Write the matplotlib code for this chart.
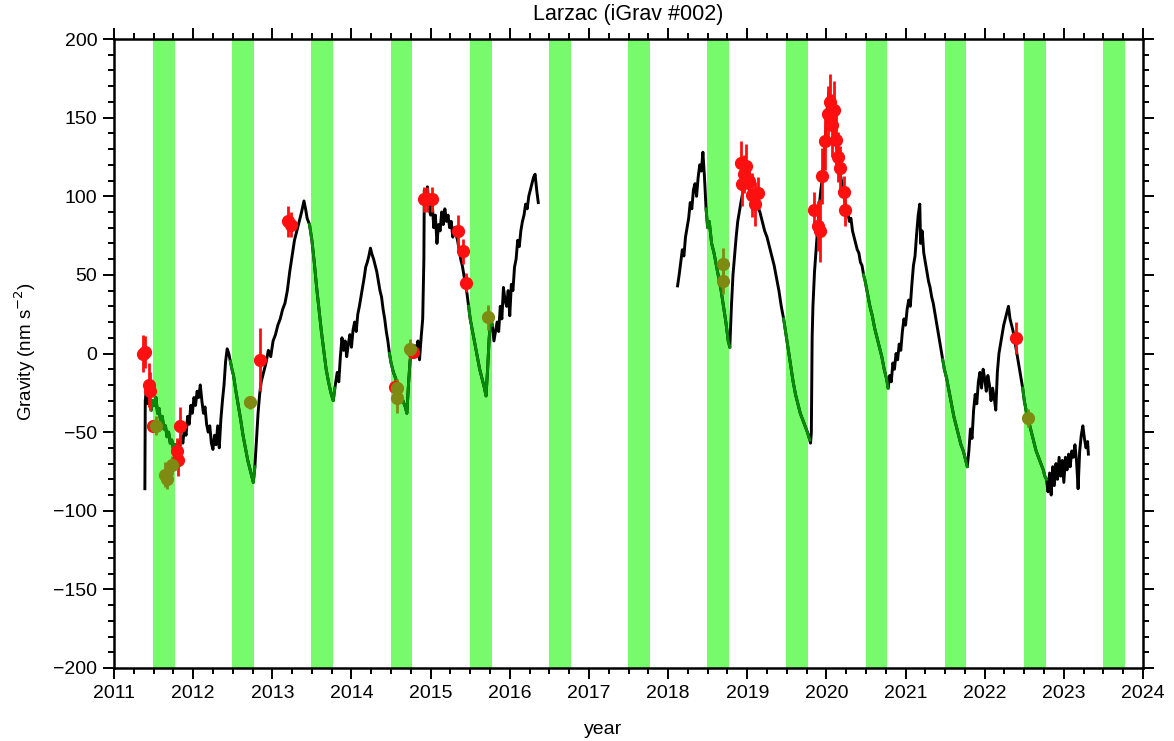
import numpy as np
import matplotlib
matplotlib.use("Agg")
import matplotlib.pyplot as plt
from matplotlib.ticker import MultipleLocator

plt.rcParams['font.family'] = ['Liberation Sans', 'DejaVu Sans']

# gravity residual, first recording period (decimal year, nm/s^2)
t1 = [2011.39, 2011.395, 2011.41, 2011.43, 2011.45, 2011.47, 2011.49, 2011.51, 2011.53, 2011.55,
      2011.57, 2011.59, 2011.61, 2011.63, 2011.65, 2011.67, 2011.69, 2011.71, 2011.73, 2011.75,
      2011.77, 2011.79, 2011.81, 2011.83, 2011.85, 2011.87, 2011.89, 2011.91, 2011.93, 2011.95,
      2011.97, 2011.99, 2012.01, 2012.03, 2012.05, 2012.07, 2012.09, 2012.11, 2012.13, 2012.15,
      2012.17, 2012.19, 2012.21, 2012.23, 2012.25, 2012.27, 2012.29, 2012.31, 2012.33, 2012.35,
      2012.37, 2012.39, 2012.41, 2012.43, 2012.45, 2012.47, 2012.49, 2012.51, 2012.54, 2012.57,
      2012.60, 2012.63, 2012.66, 2012.69, 2012.72, 2012.75, 2012.76, 2012.78, 2012.80, 2012.82,
      2012.84, 2012.86, 2012.89, 2012.92, 2012.95, 2012.98, 2013.01, 2013.04, 2013.07, 2013.10,
      2013.13, 2013.16, 2013.19, 2013.22, 2013.25, 2013.28, 2013.31, 2013.34, 2013.37, 2013.40,
      2013.42, 2013.44, 2013.47, 2013.50, 2013.53, 2013.56, 2013.59, 2013.62, 2013.65, 2013.68,
      2013.71, 2013.74, 2013.77, 2013.79, 2013.82, 2013.84, 2013.86, 2013.88, 2013.90, 2013.92,
      2013.94, 2013.96, 2013.98, 2014.00, 2014.02, 2014.04, 2014.06, 2014.08, 2014.10, 2014.12,
      2014.14, 2014.16, 2014.18, 2014.20, 2014.22, 2014.24, 2014.26, 2014.28, 2014.30, 2014.32,
      2014.34, 2014.36, 2014.38, 2014.40, 2014.42, 2014.44, 2014.46, 2014.48, 2014.50, 2014.53,
      2014.56, 2014.59, 2014.62, 2014.65, 2014.68, 2014.70, 2014.72, 2014.74, 2014.76, 2014.78,
      2014.80, 2014.82, 2014.84, 2014.86, 2014.88, 2014.90, 2014.915, 2014.92, 2014.94, 2014.96,
      2014.98, 2015.00, 2015.02, 2015.04, 2015.06, 2015.08, 2015.10, 2015.12, 2015.14, 2015.16,
      2015.18, 2015.20, 2015.22, 2015.24, 2015.26, 2015.28, 2015.30, 2015.32, 2015.34, 2015.36,
      2015.38, 2015.40, 2015.42, 2015.44, 2015.46, 2015.48, 2015.50, 2015.53, 2015.56, 2015.59,
      2015.62, 2015.65, 2015.68, 2015.70, 2015.72, 2015.74, 2015.76, 2015.78, 2015.80, 2015.82,
      2015.84, 2015.86, 2015.88, 2015.90, 2015.92, 2015.94, 2015.96, 2015.98, 2016.00, 2016.02,
      2016.04, 2016.06, 2016.08, 2016.10, 2016.12, 2016.14, 2016.16, 2016.18, 2016.20, 2016.22,
      2016.24, 2016.26, 2016.28, 2016.30, 2016.32, 2016.34, 2016.36]
g1 = [-86, -30, -22, -32, -28, -36, -30, -33, -28, -38,
      -35, -44, -40, -48, -46, -53, -50, -57, -55, -61,
      -58, -64, -56, -60, -53, -57, -47, -52, -40, -45,
      -33, -38, -28, -33, -24, -28, -20, -30, -38, -34,
      -45, -50, -46, -57, -61, -52, -58, -46, -60, -42,
      -30, -20, -5, 3, 0, -5, -10, -14, -24, -33,
      -42, -52, -60, -68, -74, -80, -82, -72, -55, -38,
      -26, -18, -12, -6, 2, -2, 8, 12, 18, 22,
      28, 32, 40, 52, 62, 72, 78, 84, 90, 97,
      92, 86, 82, 72, 58, 42, 28, 14, 2, -10,
      -18, -25, -30, -22, -12, -18, -2, 10, 2, 8,
      -2, 6, 12, 4, 15, 20, 14, 25, 30, 36,
      42, 48, 55, 58, 62, 67, 63, 60, 56, 52,
      46, 40, 36, 28, 22, 14, 8, 0, -6, -12,
      -16, -22, -26, -30, -34, -38, -20, -5, 4, 0,
      5, -2, 8, -4, 10, 22, 60, 104, 98, 106,
      92, 88, 96, 80, 88, 70, 82, 78, 90, 82,
      92, 84, 88, 80, 84, 74, 80, 76, 72, 66,
      60, 56, 50, 44, 38, 30, 22, 14, 6, -2,
      -10, -16, -22, -27, -10, 10, 22, 18, 8, 14,
      20, 14, 30, 22, 42, 34, 30, 40, 24, 44,
      40, 55, 60, 72, 68, 78, 84, 88, 95, 92,
      100, 104, 108, 112, 114, 104, 96]

# second recording period
t2 = [2018.12, 2018.14, 2018.16, 2018.18, 2018.20, 2018.22, 2018.24, 2018.26, 2018.28, 2018.30,
      2018.32, 2018.34, 2018.36, 2018.38, 2018.40, 2018.42, 2018.44, 2018.46, 2018.48, 2018.50,
      2018.52, 2018.55, 2018.58, 2018.61, 2018.64, 2018.67, 2018.70, 2018.73, 2018.76, 2018.78,
      2018.80, 2018.82, 2018.84, 2018.86, 2018.88, 2018.90, 2018.92, 2018.95, 2018.98, 2019.01,
      2019.04, 2019.07, 2019.10, 2019.13, 2019.16, 2019.19, 2019.22, 2019.25, 2019.28, 2019.31,
      2019.34, 2019.37, 2019.40, 2019.43, 2019.46, 2019.49, 2019.52, 2019.55, 2019.58, 2019.61,
      2019.64, 2019.67, 2019.70, 2019.73, 2019.76, 2019.79, 2019.80, 2019.81, 2019.82, 2019.83,
      2019.85, 2019.87, 2019.89, 2019.91, 2019.93, 2019.95, 2019.97, 2019.99, 2020.01, 2020.03,
      2020.05, 2020.07, 2020.09, 2020.11, 2020.13, 2020.15, 2020.17, 2020.19, 2020.21, 2020.23,
      2020.25, 2020.27, 2020.29, 2020.31, 2020.33, 2020.35, 2020.37, 2020.39, 2020.41, 2020.43,
      2020.45, 2020.47, 2020.49, 2020.52, 2020.55, 2020.58, 2020.61, 2020.64, 2020.67, 2020.70,
      2020.73, 2020.76, 2020.78, 2020.80, 2020.82, 2020.84, 2020.86, 2020.88, 2020.90, 2020.92,
      2020.94, 2020.96, 2020.98, 2021.00, 2021.02, 2021.04, 2021.06, 2021.08, 2021.10, 2021.12,
      2021.14, 2021.16, 2021.18, 2021.19, 2021.21, 2021.23, 2021.25, 2021.27, 2021.29, 2021.31,
      2021.33, 2021.35, 2021.37, 2021.39, 2021.41, 2021.43, 2021.45, 2021.47, 2021.49, 2021.52,
      2021.55, 2021.58, 2021.61, 2021.64, 2021.67, 2021.70, 2021.73, 2021.76, 2021.78, 2021.80,
      2021.82, 2021.84, 2021.86, 2021.88, 2021.90, 2021.92, 2021.94, 2021.96, 2021.98, 2022.00,
      2022.02, 2022.04, 2022.06, 2022.08, 2022.10, 2022.12, 2022.14, 2022.16, 2022.18, 2022.20,
      2022.22, 2022.24, 2022.26, 2022.28, 2022.30, 2022.32, 2022.34, 2022.36, 2022.38, 2022.40,
      2022.42, 2022.44, 2022.46, 2022.48, 2022.50, 2022.53, 2022.56, 2022.59, 2022.62, 2022.65,
      2022.68, 2022.71, 2022.74, 2022.76, 2022.78, 2022.80, 2022.82, 2022.84, 2022.86, 2022.88,
      2022.90, 2022.92, 2022.94, 2022.96, 2022.98, 2023.00, 2023.02, 2023.04, 2023.06, 2023.08,
      2023.10, 2023.12, 2023.14, 2023.16, 2023.18, 2023.20, 2023.22, 2023.24, 2023.26, 2023.28,
      2023.30, 2023.31]
g2 = [43, 50, 58, 66, 62, 74, 80, 86, 96, 92,
      104, 108, 100, 112, 120, 116, 128, 112, 92, 80,
      84, 70, 64, 56, 48, 40, 30, 20, 8, 4,
      30, 50, 62, 74, 84, 90, 96, 104, 108, 106,
      102, 100, 96, 94, 90, 84, 78, 74, 68, 62,
      56, 48, 40, 30, 22, 12, 2, -8, -18, -26,
      -32, -38, -42, -46, -50, -55, -57, -50, 10, 30,
      52, 66, 80, 94, 104, 112, 122, 140, 155, 166,
      158, 150, 146, 138, 132, 124, 116, 110, 104, 98,
      92, 90, 84, 86, 78, 74, 70, 66, 64, 58,
      56, 50, 46, 38, 30, 24, 16, 10, 4, -2,
      -10, -16, -22, -14, -18, -6, -10, 0, -4, 6,
      2, 14, 22, 18, 28, 34, 30, 44, 56, 62,
      76, 88, 95, 70, 78, 64, 58, 52, 46, 42,
      36, 32, 26, 20, 14, 8, 2, -4, -10, -16,
      -24, -32, -40, -46, -52, -58, -62, -68, -72, -62,
      -48, -54, -36, -26, -32, -18, -12, -22, -10, -16,
      -24, -14, -20, -30, -22, -28, -36, -12, 0, 6,
      12, 18, 22, 26, 30, 22, 18, 14, 8, 2,
      -4, -10, -16, -22, -30, -38, -44, -50, -56, -62,
      -66, -70, -74, -78, -80, -88, -76, -90, -72, -84,
      -70, -80, -66, -78, -68, -82, -66, -74, -64, -72,
      -62, -66, -58, -68, -86, -62, -52, -46, -54, -60,
      -56, -64]

# absolute gravity measurements outside the summer window
red_t = [2011.37, 2011.39, 2011.44, 2011.45, 2011.49, 2011.79, 2011.81, 2011.84, 2012.84,
         2013.20, 2013.24, 2014.55, 2014.78, 2014.92, 2014.96, 2015.02, 2015.35, 2015.41,
         2015.45, 2018.92, 2018.93, 2018.96, 2018.98, 2019.02, 2019.06, 2019.10, 2019.13,
         2019.84, 2019.90, 2019.92, 2019.94, 2019.98, 2020.02, 2020.05, 2020.07, 2020.10,
         2020.12, 2020.15, 2020.17, 2020.22, 2020.23, 2022.39]
red_g = [0, 1, -20, -24, -46, -62, -68, -46, -4,
         84, 82, -21, 1, 98, 98, 98, 78, 65,
         45, 121, 108, 114, 119, 110, 101, 95, 102,
         91, 81, 78, 113, 135, 152, 160, 145, 155,
         136, 125, 118, 103, 91, 10]
red_e = [12, 10, 14, 12, 4, 8, 10, 12, 20,
         10, 8, 4, 4, 8, 8, 8, 10, 8,
         6, 14, 14, 12, 14, 12, 14, 14, 10,
         12, 16, 20, 18, 18, 18, 18, 20, 18,
         16, 16, 14, 10, 10, 10]

# measurements inside the summer window
olive_t = [2011.53, 2011.65, 2011.67, 2011.73, 2012.72, 2014.57, 2014.58, 2014.74,
           2015.73, 2018.69, 2018.69, 2022.55]
olive_g = [-46, -77, -80, -71, -31, -22, -28, 3, 23, 57, 46, -41]
olive_e = [6, 8, 6, 6, 4, 6, 10, 6, 8, 10, 8, 6]

years = np.arange(2011, 2025)

W, H = 1174, 741
fig = plt.figure(figsize=(W / 100, H / 100), dpi=100)
ax = fig.add_axes([114 / W, 1 - 668 / H, 1029 / W, 629 / H])

for y in years[:-1]:
    ax.axvspan(y + 0.495, y + 0.77, color='#77fb6d', lw=0, zorder=0)

for t, g in [(t1, g1), (t2, g2)]:
    t = np.array(t)
    g = np.array(g, dtype=float)
    ax.plot(t, g, color='black', lw=2.1, zorder=2)
    frac = t - np.floor(t)
    summer = (frac >= 0.49) & (frac <= 0.775)
    # keep the neighbouring samples so green pieces join the black line
    keep = summer | np.r_[False, summer[:-1]] | np.r_[summer[1:], False]
    gs = np.where(keep, g, np.nan)
    ax.plot(t, gs, color='#0a8a0a', lw=2.1, zorder=3)

ax.errorbar(red_t, red_g, yerr=red_e, fmt='o', color='#ff1010', ms=8.5, elinewidth=2,
            capsize=0, zorder=5)
ax.errorbar(olive_t, olive_g, yerr=olive_e, fmt='o', color='#7f8a12', ms=8.5,
            elinewidth=2, capsize=0, zorder=5)

ax.set_xlim(2011, 2024)
ax.set_ylim(-200, 200)
ax.set_xticks(years)
ax.xaxis.set_minor_locator(MultipleLocator(0.25))
ax.yaxis.set_major_locator(MultipleLocator(50))
ax.yaxis.set_minor_locator(MultipleLocator(10))
ax.tick_params(which='both', direction='out', top=True, right=True, width=1.4,
               labelsize=14, colors='black')
ax.tick_params(which='major', length=8, pad=4)
ax.tick_params(which='minor', length=4.5)
for s in ax.spines.values():
    s.set_linewidth(1.8)

ax.set_title('Larzac (iGrav #002)', fontsize=15.5, pad=14)
fig.text(603 / W, 1 - 730 / H, 'year', ha='center', va='center', fontsize=14)
fig.text(25 / W, 1 - 352 / H, 'Gravity (nm s$^{-2}$)', ha='center', va='center',
         rotation=90, fontsize=13.5)

fig.savefig('out.png', dpi=100)
